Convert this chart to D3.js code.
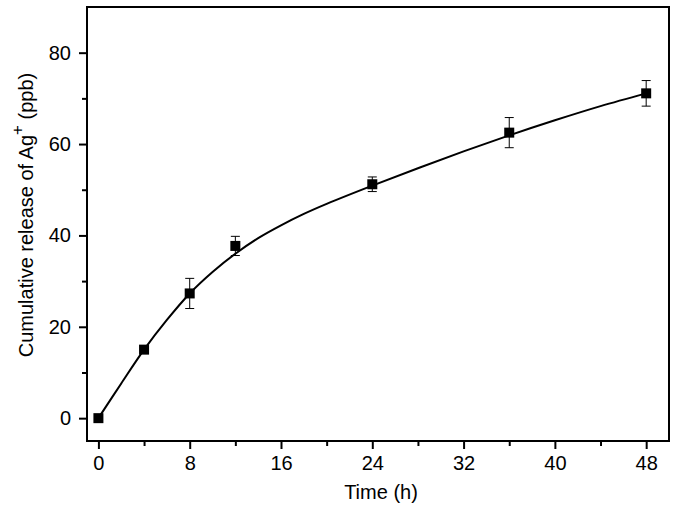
<!DOCTYPE html>
<html>
<head>
<meta charset="utf-8">
<script src="https://cdn.jsdelivr.net/npm/d3@7"></script>
<style>
  body { margin: 0; background: #fff; }
  text { font-family: "Liberation Sans", Arial, sans-serif; fill: #000; }
</style>
</head>
<body>
<script>
// measured points (h, ppb) with error bars
const times = [0, 4, 8, 12, 24, 36, 48]
const release = [0, 15.0, 27.3, 37.7, 51.2, 62.5, 71.1]
const errors = [0, 0.5, 3.3, 2.1, 1.6, 3.3, 2.8]

// fitted curve
const fitX = [0, 2, 4, 6, 8, 10, 12, 14, 16, 18, 20, 24, 28, 32, 36, 40, 44, 48]
const fitY = [0, 7.6, 15.0, 21.5, 27.3, 32.0, 36.0, 39.4, 42.2, 44.7, 46.9, 50.9, 54.7, 58.4, 61.9, 65.2, 68.3, 71.1]

const xTicks = [0, 8, 16, 24, 32, 40, 48]
const xMinor = [4, 12, 20, 28, 36, 44]
const yTicks = [0, 20, 40, 60, 80]
const yMinor = [10, 30, 50, 70]

const w = 675
const h = 510
const m = { top: 7, right: 6, bottom: 69, left: 87 }
const fs = '20px'

const x = d3.scaleLinear().domain([-1, 50]).range([m.left, w - m.right])
const y = d3.scaleLinear().domain([-5, 90]).range([h - m.bottom, m.top])

const svg = d3.select('body').append('svg')
  .attr('width', w)
  .attr('height', h)

// minor ticks
svg.append('g')
  .attr('transform', `translate(0, ${h - m.bottom})`)
  .call(d3.axisBottom(x).tickValues(xMinor).tickSize(5).tickFormat(''))
svg.append('g')
  .attr('transform', `translate(${m.left}, 0)`)
  .call(d3.axisLeft(y).tickValues(yMinor).tickSize(5).tickFormat(''))

// major ticks
svg.append('g')
  .attr('transform', `translate(0, ${h - m.bottom})`)
  .call(d3.axisBottom(x).tickValues(xTicks).tickSize(8).tickPadding(7))
svg.append('g')
  .attr('transform', `translate(${m.left}, 0)`)
  .call(d3.axisLeft(y).tickValues(yTicks).tickSize(8).tickPadding(8))

svg.selectAll('.domain').remove()
svg.selectAll('.tick line').attr('stroke', '#000').attr('stroke-width', 2)
svg.selectAll('.tick text').style('font-size', fs)
  .style('font-family', '"Liberation Sans", Arial, sans-serif')
  .attr('fill', '#000')

// frame
svg.append('rect')
  .attr('x', m.left)
  .attr('y', m.top)
  .attr('width', w - m.left - m.right)
  .attr('height', h - m.top - m.bottom)
  .attr('fill', 'none')
  .attr('stroke', '#000')
  .attr('stroke-width', 2)

// fit line
const line = d3.line()
  .x(d => x(d[0]))
  .y(d => y(d[1]))
  .curve(d3.curveCatmullRom)

svg.append('path')
  .datum(fitX.map((t, i) => [t, fitY[i]]))
  .attr('d', line)
  .attr('fill', 'none')
  .attr('stroke', '#000')
  .attr('stroke-width', 2)

const pts = times.map((t, i) => ({ t, v: release[i], e: errors[i] }))

// error bars
const eb = svg.append('g').attr('stroke', '#000').attr('stroke-width', 1)
pts.filter(d => d.e > 1).forEach(d => {
  eb.append('line')
    .attr('x1', x(d.t)).attr('x2', x(d.t))
    .attr('y1', y(d.v - d.e)).attr('y2', y(d.v + d.e))
  ;[d.v - d.e, d.v + d.e].forEach(v => {
    eb.append('line')
      .attr('x1', x(d.t) - 4.5).attr('x2', x(d.t) + 4.5)
      .attr('y1', y(v)).attr('y2', y(v))
  })
})

// markers
svg.selectAll('rect.pt')
  .data(pts)
  .enter()
  .append('rect')
  .attr('class', 'pt')
  .attr('x', d => x(d.t) - 5)
  .attr('y', d => y(d.v) - 5)
  .attr('width', 10)
  .attr('height', 10)
  .attr('fill', '#000')

// axis titles
svg.append('text')
  .attr('x', 381)
  .attr('y', 499)
  .attr('text-anchor', 'middle')
  .style('font-size', fs)
  .text('Time (h)')

const yt = svg.append('text')
  .attr('transform', 'translate(33, 215) rotate(-90)')
  .attr('text-anchor', 'middle')
  .style('font-size', fs)
yt.append('tspan').text('Cumulative release of Ag')
yt.append('tspan').attr('dy', -10).style('font-size', '17px').text('+')
yt.append('tspan').attr('dy', 10).text(' (ppb)')
</script>
</body>
</html>
